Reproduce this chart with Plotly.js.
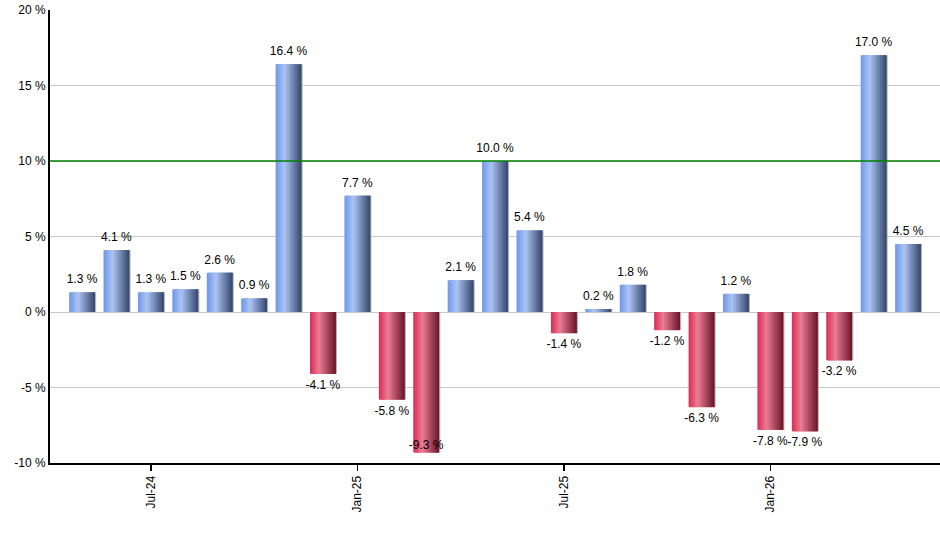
<!DOCTYPE html>
<html>
<head>
<meta charset="utf-8">
<script src="https://cdn.plot.ly/plotly-3.0.1.min.js"></script>
<style>
  body { margin: 0; background: #fff; }
  #chart { width: 940px; height: 550px; }
</style>
</head>
<body>
<div id="chart"></div>
<script>
const months = [
  'May-24', 'Jun-24', 'Jul-24', 'Aug-24', 'Sep-24', 'Oct-24', 'Nov-24', 'Dec-24',
  'Jan-25', 'Feb-25', 'Mar-25', 'Apr-25', 'May-25', 'Jun-25', 'Jul-25', 'Aug-25',
  'Sep-25', 'Oct-25', 'Nov-25', 'Dec-25', 'Jan-26', 'Feb-26', 'Mar-26', 'Apr-26', 'May-26',
];
const returns = [
  1.3, 4.1, 1.3, 1.5, 2.6, 0.9, 16.4, -4.1,
  7.7, -5.8, -9.3, 2.1, 10.0, 5.4, -1.4, 0.2,
  1.8, -1.2, -6.3, 1.2, -7.8, -7.9, -3.2, 17.0, 4.5,
];
const tickMonths = ['Jul-24', 'Jan-25', 'Jul-25', 'Jan-26'];
const yTicks = [-10, -5, 0, 5, 10, 15, 20];
const targetLine = 10;

const barWidth = 0.75;
const strips = 16;
const yMin = -10;

// horizontal gradient stops for the bars
const blueStops = [[0, [108, 151, 234]], [0.35, [172, 196, 243]], [1, [52, 70, 107]]];
const redStops = [[0, [220, 42, 82]], [0.35, [234, 125, 148]], [1, [106, 21, 41]]];

function gradColor(stops, t) {
  for (let i = 1; i < stops.length; i++) {
    if (t <= stops[i][0]) {
      const [t0, c0] = stops[i - 1];
      const [t1, c1] = stops[i];
      const f = (t - t0) / (t1 - t0);
      const c = c0.map((v, k) => Math.round(v + (c1[k] - v) * f));
      return `rgb(${c[0]},${c[1]},${c[2]})`;
    }
  }
  const c = stops[stops.length - 1][1];
  return `rgb(${c[0]},${c[1]},${c[2]})`;
}

const xs = months.map((m, i) => i);
const traces = [];

// thin shadow on the right edge of each bar
traces.push({
  type: 'bar',
  x: xs,
  y: returns,
  offset: barWidth / 2 - 0.01,
  width: 0.045,
  marker: { color: '#b4b4b4', line: { width: 0 } },
  hoverinfo: 'skip',
  showlegend: false,
});

// strips drawn left to right, each one overlapping the next so no seams show
const sw = barWidth / strips;
for (let s = 0; s < strips; s++) {
  const t = (s + 0.5) / strips;
  const blue = gradColor(blueStops, t);
  const red = gradColor(redStops, t);
  const left = -barWidth / 2 + s * sw;
  traces.push({
    type: 'bar',
    x: xs,
    y: returns,
    offset: left,
    width: s === strips - 1 ? sw : Math.min(sw * 2.5, barWidth / 2 - left),
    marker: {
      color: returns.map((v) => (v >= 0 ? blue : red)),
      line: { width: 0 },
    },
    hoverinfo: 'skip',
    showlegend: false,
  });
}

// value labels: above positive bars, below negative ones (inside if no room)
const flipped = returns.map((v) => v < 0 && v < yMin + 1.2);
traces.push({
  type: 'scatter',
  mode: 'markers+text',
  x: xs,
  y: returns,
  text: returns.map((v) => v.toFixed(1) + ' %'),
  textposition: returns.map((v, i) => (v >= 0 || flipped[i] ? 'top center' : 'bottom center')),
  textfont: { family: 'Liberation Sans, Arial, sans-serif', size: 12, color: '#000' },
  marker: {
    size: flipped.map((f) => (f ? 0 : 8)),
    color: 'rgba(0,0,0,0)',
    opacity: 0,
    line: { width: 0 },
  },
  cliponaxis: false,
  hoverinfo: 'skip',
  showlegend: false,
});

const layout = {
  width: 940,
  height: 550,
  margin: { l: 50, r: 0, t: 10, b: 87 },
  paper_bgcolor: '#fff',
  plot_bgcolor: '#fff',
  barmode: 'overlay',
  showlegend: false,
  font: { family: 'Liberation Sans, Arial, sans-serif', size: 12, color: '#000' },
  xaxis: {
    range: [-0.93, months.length - 0.07],
    tickvals: tickMonths.map((m) => months.indexOf(m)),
    ticktext: tickMonths,
    tickangle: -90,
    ticks: 'outside',
    ticklen: 6,
    tickwidth: 1.5,
    tickcolor: '#000',
    showline: true,
    linecolor: '#000',
    linewidth: 2,
    showgrid: false,
    zeroline: false,
    tickfont: { size: 12, color: '#000' },
  },
  yaxis: {
    range: [yMin, 20],
    tickvals: yTicks,
    ticktext: yTicks.map((v) => v + ' %'),
    showgrid: true,
    gridcolor: '#c8c8c8',
    gridwidth: 1,
    zeroline: false,
    showline: true,
    linecolor: '#000',
    linewidth: 2,
    ticks: '',
    tickfont: { size: 12, color: '#000' },
  },
  shapes: [
    {
      type: 'line',
      xref: 'paper',
      x0: 0,
      x1: 1,
      yref: 'y',
      y0: targetLine,
      y1: targetLine,
      line: { color: '#008000', width: 1.3 },
    },
  ],
};

Plotly.newPlot('chart', traces, layout, { staticPlot: true, displayModeBar: false });
</script>
</body>
</html>
